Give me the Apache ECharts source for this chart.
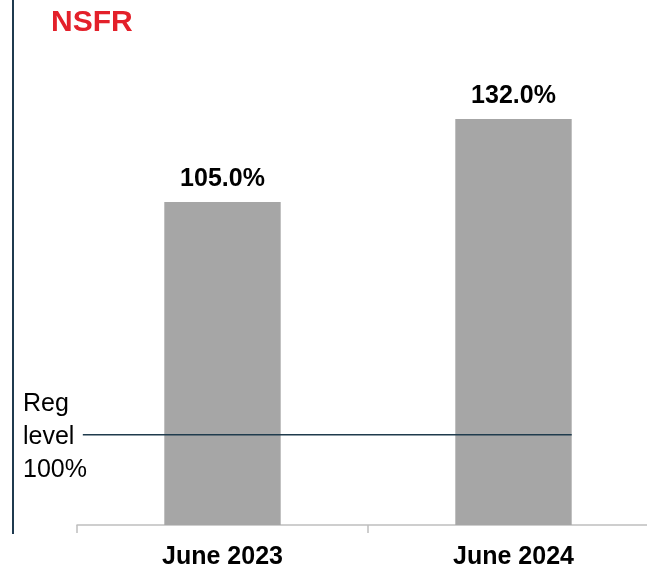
<!DOCTYPE html>
<html>
<head>
<meta charset="utf-8">
<script src="https://cdn.jsdelivr.net/npm/echarts@6/dist/echarts.min.js"></script>
<style>
  html, body { margin: 0; padding: 0; background: #fff; }
  #chart { width: 647px; height: 573px; }
</style>
</head>
<body>
<div id="chart"></div>
<script>
// data
const categories = ['June 2023', 'June 2024'];
const nsfrValues = [105.0, 132.0];
// reg level line is drawn schematically, not at 100 on the bar scale
const regLineLevel = [29.3, 29.3];
const regLineSpan = [0.02, 1.7];
const regLabel = 'Reg\nlevel\n100%';

const chart = echarts.init(document.getElementById('chart'));

const option = {
  animation: false,
  title: {
    text: 'NSFR',
    left: 46,
    top: 3,
    textStyle: {
      color: '#e3202a',
      fontFamily: 'Liberation Sans, Arial',
      fontWeight: 'bold',
      fontSize: 30
    }
  },
  grid: { left: 77, top: 2, width: 582, height: 523, outerBoundsMode: 'none' },
  xAxis: [
    {
      type: 'category',
      data: categories,
      axisLine: { lineStyle: { color: '#bfbfbf', width: 1.5 } },
      axisTick: { show: true, length: 8, lineStyle: { color: '#bfbfbf', width: 1.5 } },
      axisLabel: {
        color: '#000',
        fontFamily: 'Liberation Sans, Arial',
        fontWeight: 'bold',
        fontSize: 25,
        margin: 20
      }
    },
    { type: 'value', min: 0, max: 2, show: false }
  ],
  yAxis: {
    type: 'value',
    min: 0,
    max: 170,
    show: false
  },
  series: [
    {
      type: 'bar',
      data: nsfrValues,
      barWidth: '40%',
      itemStyle: { color: '#a6a6a6' },
      label: {
        show: true,
        position: 'top',
        distance: 10,
        formatter: p => p.value.toFixed(1) + '%',
        color: '#000',
        fontFamily: 'Liberation Sans, Arial',
        fontWeight: 'bold',
        fontSize: 25
      },
      z: 2
    },
    {
      type: 'line',
      xAxisIndex: 1,
      data: regLineSpan.map((x, i) => [x, regLineLevel[i]]),
      symbol: 'none',
      lineStyle: { color: '#1f3b4d', width: 1.5 },
      z: 3
    }
  ],
  graphic: [
    {
      type: 'line',
      shape: { x1: 13, y1: 0, x2: 13, y2: 534 },
      style: { stroke: '#1f3a4f', lineWidth: 2 }
    },
    {
      type: 'text',
      left: 23,
      top: 388,
      style: {
        text: regLabel,
        fill: '#000',
        fontFamily: 'Liberation Sans, Arial',
        fontSize: 25,
        lineHeight: 33
      }
    }
  ]
};

chart.setOption(option);
</script>
</body>
</html>
